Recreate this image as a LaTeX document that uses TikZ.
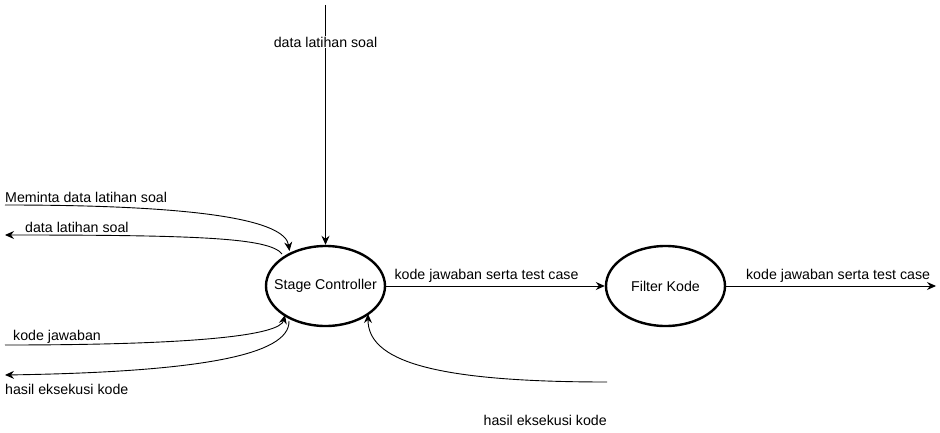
\documentclass[tikz,border=0pt]{standalone}
\usepackage{fontspec}
\setmainfont{Liberation Sans}
\usetikzlibrary{arrows.meta,shapes.geometric}
\begin{document}
\begin{tikzpicture}[x=1pt,y=-1pt,
  proc/.style={draw,line width=2.4pt,ellipse,minimum width=119pt,minimum height=80pt,inner sep=0pt,font=\fontsize{14.2}{16}\selectfont},
  flow/.style={line width=0.9pt,-{Stealth[length=9pt,width=8pt,inset=3pt]}},
  lbl/.style={font=\fontsize{14.2}{16}\selectfont,inner sep=1pt}]
\useasboundingbox (0,0) rectangle (940,433);
\node[proc] (sc) at (325.5,286) {\makebox[0pt]{Stage Controller}};
\node[proc] (fk) at (665.5,286) {\makebox[0pt]{Filter Kode}};
\coordinate (top) at (325.5,5);
\coordinate (m0) at (5,205);
\coordinate (d0) at (5,235);
\coordinate (k0) at (5,345);
\coordinate (h0) at (5,375);
\coordinate (b0) at (607,382);
\coordinate (r0) at (936,286);
\coordinate (mE) at (289.5,251);
\coordinate (dS) at (282,254);
\coordinate (kE) at (285,315);
\coordinate (hS) at (289,321);
\coordinate (bE) at (368,314);
% vertical input
\draw[flow] (top) -- (sc.north) node[lbl,pos=0.155,fill=white] {data latihan soal};
% horizontal flows
\draw[flow] (sc.east) -- (fk.west) node[lbl,midway,above=2pt,xshift=-9pt] {kode jawaban serta test case};
\draw[flow] (fk.east) -- (r0) node[lbl,midway,above=2pt,xshift=7pt] {kode jawaban serta test case};
% left curves
\draw[flow] (m0) .. controls (200,205) and (285,220) .. (mE);
\node[lbl,anchor=base west] (ml) at (4,202) {Meminta data latihan soal};
\draw[flow] (dS) .. controls (270,238) and (200,235) .. (d0);
\node[lbl,anchor=base west] (dl) at (24,232) {data latihan soal};
\draw[flow] (k0) .. controls (200,345) and (280,335) .. (kE);
\node[lbl,anchor=base west] (kl) at (12,340) {kode jawaban};
\draw[flow] (hS) .. controls (290,355) and (200,372) .. (h0);
\node[lbl,anchor=base west] (hl) at (4,394) {hasil eksekusi kode};
% bottom curve
\draw[flow] (b0) .. controls (430,382) and (368,360) .. (bE);
\node[lbl,anchor=base east] (bl) at (608,425) {hasil eksekusi kode};
\end{tikzpicture}
\end{document}
